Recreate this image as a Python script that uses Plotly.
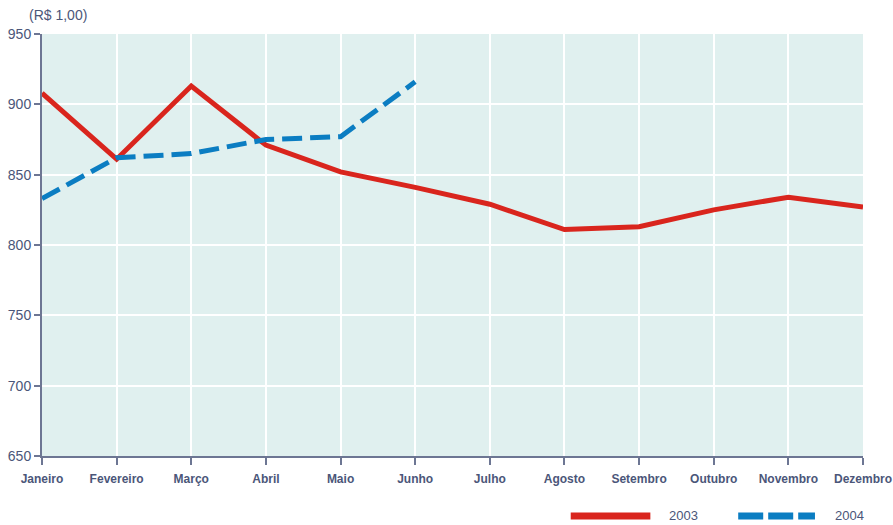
import plotly.graph_objects as go

months = ["Janeiro", "Fevereiro", "Março", "Abril", "Maio", "Junho", "Julho",
          "Agosto", "Setembro", "Outubro", "Novembro", "Dezembro"]
v2003 = [908, 861, 913, 871, 852, 841, 829, 811, 813, 825, 834, 827]
v2004 = [833, 862, 865, 875, 877, 916]
y_ticks = [650, 700, 750, 800, 850, 900, 950]

RED = "#d9251d"
BLUE = "#0b7dc2"
TXT = "#4b5679"
AX = "#6d7693"

fig = go.Figure()
fig.add_trace(go.Scatter(x=list(range(len(v2003))), y=v2003, mode="lines", name="2003",
                         line=dict(color=RED, width=5), showlegend=False))
fig.add_trace(go.Scatter(x=list(range(len(v2004))), y=v2004, mode="lines", name="2004",
                         line=dict(color=BLUE, width=5, dash="20px,8px"), showlegend=False))

fig.update_layout(
    width=893, height=525,
    margin=dict(l=42, r=30, t=34, b=69),
    paper_bgcolor="white", plot_bgcolor="#e0f0ef",
    font=dict(family="Liberation Sans Narrow, Arial Narrow, Liberation Sans, sans-serif", color=TXT),
    xaxis=dict(range=[0, 11], tickmode="array", tickvals=list(range(12)), ticktext=months,
               showgrid=True, gridcolor="white", gridwidth=2, zeroline=False,
               showline=True, linecolor=AX, linewidth=2,
               ticks="outside", ticklen=7, tickwidth=2, tickcolor=AX,
               automargin=False, ticklabeloverflow="allow", ticklabelstandoff=4,
               tickfont=dict(size=12, color=TXT, weight="bold"), fixedrange=True),
    yaxis=dict(range=[650, 950], tickmode="array", tickvals=y_ticks,
               showgrid=True, gridcolor="white", gridwidth=2, zeroline=False,
               showline=True, linecolor=AX, linewidth=2,
               ticks="outside", ticklen=6, tickwidth=2, tickcolor=AX,
               automargin=False, ticklabeloverflow="allow",
               tickfont=dict(size=14, color=TXT),
               fixedrange=True),
)

fig.add_annotation(text="(R$ 1,00)", xref="paper", yref="paper", x=-0.018, y=1.045,
                   xanchor="left", yanchor="middle", showarrow=False,
                   font=dict(size=14, color=TXT))

# legend drawn at the bottom
ly = -0.142
fig.add_shape(type="line", xref="paper", yref="paper", x0=0.644, x1=0.741, y0=ly, y1=ly,
              line=dict(color=RED, width=7))
fig.add_annotation(text="2003", xref="paper", yref="paper", x=0.761, y=ly,
                   xanchor="left", yanchor="middle", showarrow=False,
                   font=dict(size=13, color=TXT))
fig.add_shape(type="line", xref="paper", yref="paper", x0=0.848, x1=0.9415, y0=ly, y1=ly,
              line=dict(color=BLUE, width=7, dash="25px,5px"))
fig.add_annotation(text="2004", xref="paper", yref="paper", x=0.9635, y=ly,
                   xanchor="left", yanchor="middle", showarrow=False,
                   font=dict(size=13, color=TXT))

fig.write_html("out.html", config={"displayModeBar": False},
               post_script="document.body.style.margin='0';")
